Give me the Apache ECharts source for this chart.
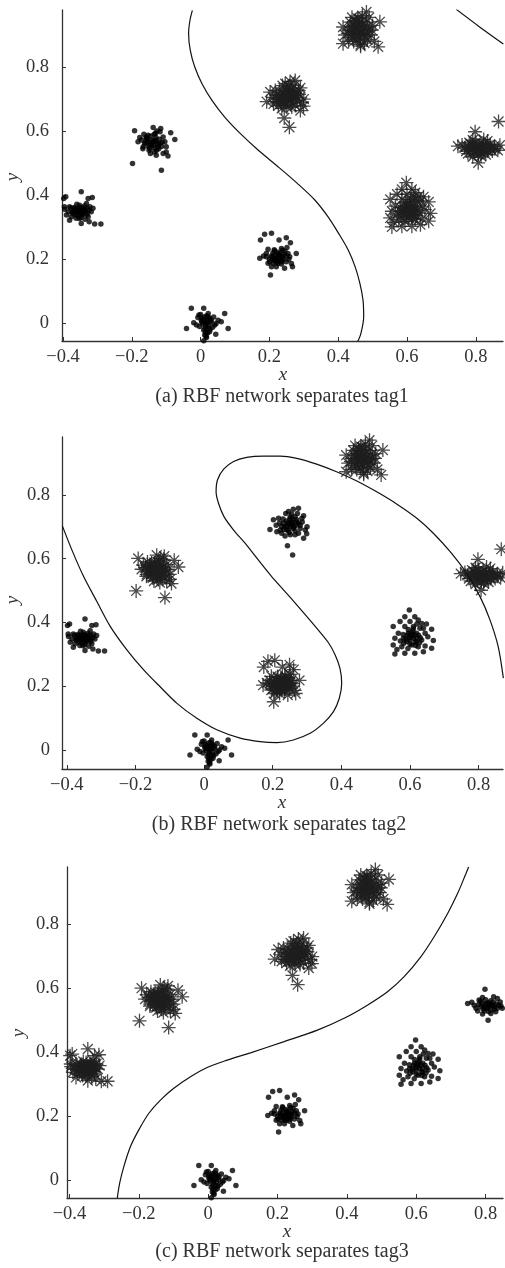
<!DOCTYPE html>
<html>
<head>
<meta charset="utf-8">
<script src="https://cdn.jsdelivr.net/npm/echarts@6/dist/echarts.min.js"></script>
<style>
  html, body { margin: 0; padding: 0; background: #fff; }
  #chart { width: 505px; height: 1268px; }
</style>
</head>
<body>
<div id="chart"></div>
<script>
// ---- sample clusters (x, y) ----
const cluster1 = [
  [-0.027,0.047],[0.009,0.047],[0.022,0.031],[-0.005,0.026],[0.012,0.021],[0.026,0.016],
  [0.002,0.010],[0.031,0.010],[0.051,0.010],[0.070,0.031],[0.060,0.005],[-0.012,-0.005],
  [0.017,0.000],[0.041,-0.005],[-0.003,-0.010],[-0.041,-0.016],[0.080,-0.016],[0.009,-0.021],
  [0.022,-0.016],[0.026,-0.026],[0.012,-0.036],[0.044,-0.034],[0.017,-0.044],[0.009,-0.054],
  [0.004,0.016],[0.019,0.005],[0.014,-0.028],[0.006,-0.002],[0.030,0.004],[-0.020,0.002],
  [0.035,-0.012],[0.000,0.028],[0.010,0.005],[0.020,0.012],[0.015,-0.008],[0.024,-0.004],
  [0.008,0.012],[0.018,0.024],[0.028,-0.018],[0.013,-0.015],[0.003,0.004],[0.022,0.020],
  [0.016,-0.040],[0.038,0.020],[-0.008,0.018],[0.045,0.000],[0.020,-0.030]
];
const cluster2 = [
  [0.174,0.260],[0.186,0.278],[0.206,0.281],[0.249,0.267],[0.228,0.260],[0.261,0.252],
  [0.196,0.231],[0.215,0.227],[0.235,0.234],[0.251,0.237],[0.278,0.218],[0.172,0.203],
  [0.191,0.208],[0.206,0.210],[0.220,0.203],[0.240,0.208],[0.259,0.208],[0.201,0.192],
  [0.225,0.187],[0.249,0.192],[0.264,0.187],[0.267,0.177],[0.244,0.172],[0.203,0.151],
  [0.191,0.218],[0.210,0.198],[0.230,0.218],[0.235,0.198],[0.215,0.213],[0.254,0.218],
  [0.220,0.177],[0.206,0.177],[0.222,0.205],[0.232,0.210],[0.215,0.200],[0.240,0.200],
  [0.228,0.195],[0.210,0.220],[0.245,0.225],[0.220,0.190],[0.235,0.185],[0.200,0.200],
  [0.250,0.210],[0.226,0.215],[0.212,0.188],[0.238,0.228],[0.183,0.210],[0.224,0.222],
  [0.218,0.196],[0.242,0.215],[0.230,0.202],[0.208,0.207],[0.236,0.192],[0.226,0.208],
  [0.256,0.200],[0.214,0.230],[0.196,0.188]
];
const cluster3 = [
  [-0.398,0.390],[-0.392,0.395],[-0.347,0.411],[-0.315,0.393],[-0.327,0.390],[-0.381,0.364],
  [-0.396,0.364],[-0.366,0.359],[-0.352,0.369],[-0.332,0.374],[-0.322,0.364],[-0.313,0.359],
  [-0.385,0.348],[-0.356,0.348],[-0.337,0.353],[-0.318,0.348],[-0.390,0.338],[-0.376,0.333],
  [-0.347,0.338],[-0.327,0.333],[-0.381,0.322],[-0.347,0.312],[-0.324,0.317],[-0.308,0.310],
  [-0.361,0.353],[-0.342,0.343],[-0.371,0.343],[-0.330,0.359],[-0.353,0.327],[-0.395,0.356],
  [-0.290,0.310],[-0.355,0.350],[-0.345,0.356],[-0.362,0.345],[-0.338,0.350],[-0.350,0.362],
  [-0.365,0.338],[-0.342,0.340],[-0.333,0.346],[-0.358,0.358],[-0.370,0.352],[-0.348,0.330],
  [-0.325,0.352],[-0.378,0.360],[-0.336,0.325],[-0.360,0.372],[-0.352,0.344],[-0.340,0.360],
  [-0.368,0.362],[-0.357,0.336],[-0.346,0.348],[-0.330,0.340],[-0.374,0.347],[-0.362,0.328],
  [-0.338,0.366],[-0.350,0.353]
];
const cluster4 = [
  [-0.192,0.601],[-0.138,0.611],[-0.116,0.608],[-0.087,0.595],[-0.177,0.580],[-0.153,0.587],
  [-0.131,0.593],[-0.109,0.582],[-0.182,0.567],[-0.163,0.561],[-0.143,0.572],[-0.129,0.567],
  [-0.104,0.567],[-0.075,0.574],[-0.167,0.551],[-0.148,0.546],[-0.124,0.551],[-0.100,0.551],
  [-0.134,0.535],[-0.109,0.530],[-0.095,0.522],[-0.198,0.499],[-0.114,0.478],[-0.158,0.577],
  [-0.119,0.561],[-0.138,0.556],[-0.153,0.567],[-0.172,0.572],[-0.129,0.525],[-0.100,0.535],
  [-0.140,0.565],[-0.132,0.572],[-0.148,0.558],[-0.125,0.558],[-0.155,0.575],[-0.136,0.548],
  [-0.120,0.575],[-0.145,0.585],[-0.160,0.565],[-0.128,0.540],[-0.112,0.565],[-0.150,0.540],
  [-0.135,0.590],[-0.118,0.598],[-0.165,0.590],[-0.143,0.560],[-0.130,0.580],[-0.152,0.552],
  [-0.122,0.545],[-0.158,0.582],[-0.137,0.568],[-0.146,0.530],[-0.114,0.552],[-0.168,0.545],
  [-0.127,0.600]
];
const cluster5 = [
  [0.202,0.722],[0.217,0.727],[0.246,0.748],[0.260,0.755],[0.275,0.758],[0.251,0.732],
  [0.265,0.732],[0.285,0.727],[0.231,0.711],[0.255,0.716],[0.275,0.711],[0.192,0.692],
  [0.212,0.685],[0.226,0.680],[0.241,0.690],[0.260,0.695],[0.280,0.695],[0.236,0.671],
  [0.251,0.675],[0.265,0.675],[0.299,0.678],[0.290,0.664],[0.243,0.641],[0.255,0.706],
  [0.241,0.701],[0.226,0.701],[0.270,0.722],[0.222,0.690],[0.258,0.612],[0.248,0.708],
  [0.258,0.712],[0.240,0.718],[0.262,0.700],[0.250,0.725],[0.235,0.700],[0.270,0.715],
  [0.245,0.690],[0.265,0.688],[0.230,0.725],[0.280,0.705],[0.255,0.740],[0.210,0.705],
  [0.290,0.735],[0.238,0.742],[0.300,0.700],[0.275,0.680],[0.252,0.700],[0.244,0.712],
  [0.268,0.705],[0.232,0.692],[0.258,0.725],[0.286,0.715],[0.220,0.712],[0.272,0.742],
  [0.248,0.682],[0.295,0.690]
];
const cluster6 = [
  [0.482,0.972],[0.521,0.941],[0.516,0.863],[0.414,0.873],[0.414,0.925],[0.458,0.915],
  [0.445,0.930],[0.470,0.930],[0.460,0.950],[0.440,0.900],[0.475,0.900],[0.455,0.885],
  [0.430,0.915],[0.490,0.915],[0.465,0.870],[0.445,0.880],[0.485,0.885],[0.450,0.945],
  [0.470,0.960],[0.435,0.940],[0.500,0.930],[0.420,0.900],[0.460,0.900],[0.450,0.910],
  [0.470,0.915],[0.455,0.925],[0.480,0.940],[0.440,0.955],[0.495,0.900],[0.465,0.865],
  [0.505,0.880],[0.430,0.880],[0.476,0.875],[0.452,0.940],[0.490,0.955],[0.460,0.920],
  [0.465,0.905],[0.450,0.925],[0.472,0.922],[0.458,0.935],[0.445,0.915],[0.480,0.910],
  [0.462,0.890],[0.438,0.925],[0.468,0.942],[0.485,0.925],[0.452,0.898],[0.442,0.892],
  [0.478,0.895],[0.456,0.952],[0.498,0.915],[0.428,0.905]
];
const cluster7 = [
  [0.598,0.439],[0.585,0.418],[0.614,0.418],[0.624,0.408],[0.571,0.403],[0.600,0.403],
  [0.634,0.397],[0.551,0.387],[0.585,0.387],[0.610,0.387],[0.639,0.382],[0.663,0.379],
  [0.566,0.366],[0.595,0.366],[0.619,0.366],[0.644,0.366],[0.556,0.350],[0.581,0.350],
  [0.610,0.350],[0.634,0.345],[0.668,0.343],[0.551,0.329],[0.576,0.324],[0.605,0.329],
  [0.624,0.324],[0.644,0.326],[0.663,0.319],[0.556,0.301],[0.585,0.303],[0.614,0.303],
  [0.639,0.308],[0.600,0.345],[0.619,0.340],[0.590,0.340],[0.629,0.382],[0.605,0.358],
  [0.612,0.362],[0.598,0.352],[0.618,0.350],[0.592,0.360],[0.608,0.372],[0.625,0.360],
  [0.588,0.348],[0.615,0.338],[0.600,0.332],[0.630,0.352],[0.580,0.362],[0.595,0.378],
  [0.620,0.395],[0.572,0.342],[0.652,0.355],[0.562,0.315],[0.648,0.395],[0.603,0.365],
  [0.616,0.328],[0.594,0.318],[0.628,0.336],[0.582,0.335],[0.610,0.380]
];
const cluster8 = [
  [0.748,0.553],[0.791,0.572],[0.823,0.574],[0.834,0.569],[0.781,0.564],[0.805,0.555],
  [0.854,0.553],[0.815,0.548],[0.767,0.548],[0.786,0.543],[0.801,0.538],[0.825,0.543],
  [0.844,0.545],[0.777,0.530],[0.796,0.530],[0.815,0.532],[0.834,0.538],[0.791,0.520],
  [0.815,0.522],[0.807,0.501],[0.829,0.527],[0.848,0.538],[0.772,0.538],[0.866,0.630],
  [0.870,0.556],[0.800,0.550],[0.810,0.555],[0.795,0.545],[0.820,0.548],[0.805,0.540],
  [0.790,0.555],[0.815,0.562],[0.830,0.552],[0.785,0.560],[0.825,0.535],[0.842,0.558],
  [0.760,0.557],[0.800,0.565],[0.855,0.545],[0.798,0.598],[0.812,0.545],[0.793,0.537],
  [0.822,0.558],[0.838,0.548],[0.780,0.550],[0.864,0.540],[0.808,0.528]
];

// ---- class membership per panel ----
const dotsTag1 = [cluster1, cluster2, cluster3, cluster4];
const starsTag1 = [cluster5, cluster6, cluster7, cluster8];
const dotsTag2 = [cluster1, cluster3, cluster5, cluster7];
const starsTag2 = [cluster2, cluster4, cluster6, cluster8];
const dotsTag3 = [cluster1, cluster2, cluster7, cluster8];
const starsTag3 = [cluster3, cluster4, cluster5, cluster6];

// ---- decision boundaries ----
const boundaryTag1a = [
  [-0.024,0.977],[-0.031,0.946],[-0.035,0.904],[-0.030,0.852],[-0.017,0.800],[0.004,0.748],
  [0.033,0.696],[0.070,0.644],[0.115,0.593],[0.167,0.541],[0.225,0.489],[0.281,0.437],
  [0.332,0.385],[0.370,0.333],[0.401,0.281],[0.429,0.229],[0.449,0.177],[0.463,0.125],
  [0.472,0.073],[0.474,0.021],[0.466,-0.031],[0.457,-0.056]
];
const boundaryTag1b = [[0.743,0.980],[0.810,0.926],[0.880,0.872]];
const boundaryTag2 = [
  [-0.413,0.703],[-0.385,0.627],[-0.351,0.544],[-0.312,0.465],[-0.273,0.387],[-0.225,0.314],
  [-0.176,0.251],[-0.128,0.198],[-0.079,0.146],[-0.021,0.099],[0.037,0.063],[0.105,0.037],
  [0.163,0.026],[0.212,0.023],[0.260,0.031],[0.309,0.052],[0.348,0.084],[0.377,0.120],
  [0.394,0.162],[0.401,0.209],[0.396,0.256],[0.382,0.298],[0.362,0.337],[0.333,0.376],
  [0.304,0.413],[0.270,0.455],[0.236,0.497],[0.197,0.544],[0.158,0.596],[0.120,0.648],
  [0.086,0.690],[0.058,0.732],[0.042,0.774],[0.035,0.810],[0.039,0.847],[0.057,0.881],
  [0.086,0.905],[0.124,0.918],[0.173,0.922],[0.222,0.922],[0.270,0.915],[0.328,0.897],
  [0.386,0.873],[0.445,0.844],[0.503,0.810],[0.561,0.772],[0.620,0.727],[0.668,0.680],
  [0.717,0.622],[0.765,0.554],[0.804,0.481],[0.833,0.408],[0.857,0.324],[0.872,0.225]
];
const boundaryTag3 = [
  [-0.262,-0.055],[-0.255,-0.008],[-0.243,0.044],[-0.224,0.106],[-0.200,0.158],[-0.171,0.210],
  [-0.137,0.252],[-0.099,0.288],[-0.051,0.324],[-0.003,0.353],[0.055,0.376],[0.122,0.399],
  [0.219,0.434],[0.315,0.470],[0.392,0.507],[0.459,0.548],[0.517,0.590],[0.565,0.637],
  [0.613,0.699],[0.651,0.761],[0.690,0.834],[0.719,0.897],[0.743,0.959],[0.751,0.980]
];

// ---- axes ----
const xTickValues = [-0.4, -0.2, 0, 0.2, 0.4, 0.6, 0.8];
const yTickValues = [0, 0.2, 0.4, 0.6, 0.8];
const captions = [
  '(a) RBF network separates tag1',
  '(b) RBF network separates tag2',
  '(c) RBF network separates tag3'
];

const SERIF = '"Liberation Serif", "Times New Roman", serif';
const AXIS_COLOR = '#333';
const STAR_PATH = 'path://M0,-7L0,7M-7,0L7,0M-4.95,-4.95L4.95,4.95M-4.95,4.95L4.95,-4.95';

const panels = [
  { grid: { left: 62, top: 10, width: 441, height: 331 }, x: [-0.403, 0.879], y: [-0.055, 0.978],
    yMargin: 13, dots: dotsTag1, stars: starsTag1, lines: [boundaryTag1a, boundaryTag1b],
    xName: [283, 375], yName: [13, 177], caption: [282, 397] },
  { grid: { left: 62, top: 437, width: 441, height: 332 }, x: [-0.414, 0.871], y: [-0.06, 0.982],
    yMargin: 12, dots: dotsTag2, stars: starsTag2, lines: [boundaryTag2],
    xName: [282, 803], yName: [13, 600], caption: [279, 825] },
  { grid: { left: 67, top: 867, width: 436, height: 331 }, x: [-0.407, 0.85], y: [-0.055, 0.98],
    yMargin: 8, dots: dotsTag3, stars: starsTag3, lines: [boundaryTag3],
    xName: [287, 1232], yName: [19, 1033], caption: [282, 1252] }
];

function tickText(v) {
  const s = (Math.round(v * 10) / 10).toString();
  return s.replace('-', '\u2212');
}

const grid = [], xAxis = [], yAxis = [], series = [], graphic = [];

panels.forEach((p, i) => {
  grid.push(Object.assign({ containLabel: false }, p.grid));
  const axisCommon = {
    type: 'value',
    gridIndex: i,
    splitLine: { show: false },
    axisLine: { show: true, onZero: false, lineStyle: { color: AXIS_COLOR, width: 1.3 } },
    axisTick: { show: true, inside: true, length: 4, lineStyle: { color: AXIS_COLOR, width: 1 } }
  };
  xAxis.push(Object.assign({}, axisCommon, {
    min: p.x[0], max: p.x[1],
    axisTick: Object.assign({}, axisCommon.axisTick, { customValues: xTickValues }),
    axisLabel: { customValues: xTickValues, formatter: tickText, margin: 7,
      fontFamily: SERIF, fontSize: 18.5, color: AXIS_COLOR }
  }));
  yAxis.push(Object.assign({}, axisCommon, {
    min: p.y[0], max: p.y[1],
    axisTick: Object.assign({}, axisCommon.axisTick, { customValues: yTickValues }),
    axisLabel: { customValues: yTickValues, formatter: tickText, margin: p.yMargin,
      fontFamily: SERIF, fontSize: 18.5, color: AXIS_COLOR }
  }));

  series.push({
    type: 'scatter', xAxisIndex: i, yAxisIndex: i,
    data: [].concat(...p.stars),
    symbol: STAR_PATH, symbolSize: 14,
    itemStyle: { color: 'rgba(0,0,0,0)', borderColor: '#1e1e1e', borderWidth: 1.3 },
    silent: true, animation: false, z: 2
  });
  series.push({
    type: 'scatter', xAxisIndex: i, yAxisIndex: i,
    data: [].concat(...p.dots),
    symbol: 'circle', symbolSize: 5.5,
    itemStyle: { color: '#000' },
    silent: true, animation: false, z: 3
  });
  p.lines.forEach(line => {
    series.push({
      type: 'line', xAxisIndex: i, yAxisIndex: i,
      data: line, smooth: 0.3, showSymbol: false, clip: true,
      lineStyle: { color: '#111', width: 1.2 },
      silent: true, animation: false, z: 4
    });
  });

  graphic.push({
    type: 'text', x: p.xName[0], y: p.xName[1],
    style: { text: 'x', font: 'italic 19px ' + SERIF, fill: AXIS_COLOR,
      textAlign: 'center', textVerticalAlign: 'middle' }
  });
  graphic.push({
    type: 'text', x: p.yName[0], y: p.yName[1], rotation: Math.PI / 2,
    style: { text: 'y', font: 'italic 19px ' + SERIF, fill: AXIS_COLOR,
      textAlign: 'center', textVerticalAlign: 'middle' }
  });
  graphic.push({
    type: 'text', x: p.caption[0], y: p.caption[1],
    style: { text: captions[i], font: '20px ' + SERIF, fill: AXIS_COLOR,
      textAlign: 'center', textVerticalAlign: 'middle' }
  });
});

const chart = echarts.init(document.getElementById('chart'), null, { renderer: 'canvas' });
chart.setOption({
  backgroundColor: '#fff',
  animation: false,
  grid, xAxis, yAxis, series, graphic
});
</script>
</body>
</html>
